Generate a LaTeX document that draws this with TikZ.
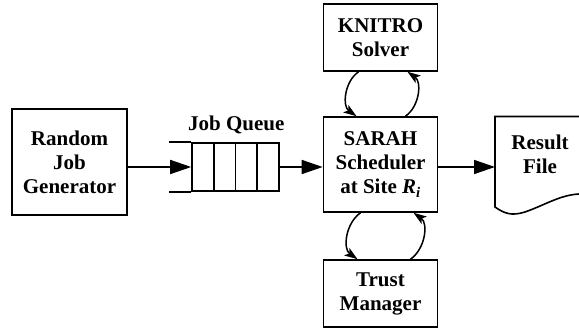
\documentclass[tikz,border=0pt]{standalone}
\usepackage{fontspec}
\setmainfont{Liberation Serif}
\usetikzlibrary{positioning, arrows.meta}

\begin{document}
\begin{tikzpicture}[x=1pt,y=-1pt,line width=1.6pt,
        font=\bfseries\fontsize{21}{24}\selectfont,
        block/.style={draw, align=center, minimum width=114pt, inner sep=0pt},
        cell/.style={draw, minimum width=21.75pt, minimum height=48pt, inner sep=0pt},
        flow/.style={-{Triangle[length=21pt,width=14pt]}},
        loop/.style={-{Stealth[length=13pt,width=9pt,inset=3pt]}, line width=1.5pt}]
    \useasboundingbox (0,0) rectangle (579,329);
    \node[block, minimum width=115pt, minimum height=106pt] (gen) at (69.5,162) {Random\\Job\\Generator};
    \node[block, minimum height=95pt] (sarah) at (380.5,164.5) {SARAH\\Scheduler\\at Site \textit{R\textsubscript{i}}};
    \node[block, minimum height=67pt] (knitro) at (380.5,37.5) {KNITRO\\Solver};
    \node[block, minimum height=67pt] (trust) at (380.5,293.5) {Trust\\Manager};
    % job queue
    \foreach \i in {1,...,4}
        \node[cell] (q\i) at (181.125+21.75*\i,167) {};
    \draw (q1.north west) -- +(-22,0) (q1.south west) -- +(-22,0);
    \node[above=4pt of q2.north east] (queue) {Job Queue};
    % result file
    \draw (579,116.5) -- (495,116.5) -- (495,207)
        .. controls (505,214) and (512,216) .. (525,212)
        .. controls (545,205) and (560,195) .. (579,194);
    \coordinate (file) at (495,167);
    \node[align=center] (result) at (540,154) {Result\\File};
    \draw[flow] (gen.east |- q1.west) -- (q1.west);
    \draw[flow] (q4.east) -- (q4.east -| sarah.west);
    \draw[flow] (sarah.east |- file) -- (file);
    \path[loop]
        ([xshift=-22pt]knitro.south) edge [out=215, in=145] ([xshift=-24pt]sarah.north)
        ([xshift=25pt]sarah.north) edge [out=35, in=-35] ([xshift=27pt]knitro.south)
        ([xshift=-20pt]sarah.south) edge [out=215, in=145] ([xshift=-23pt]trust.north)
        ([xshift=30pt]trust.north) edge [out=35, in=-35] ([xshift=33pt]sarah.south);
\end{tikzpicture}
\end{document}
